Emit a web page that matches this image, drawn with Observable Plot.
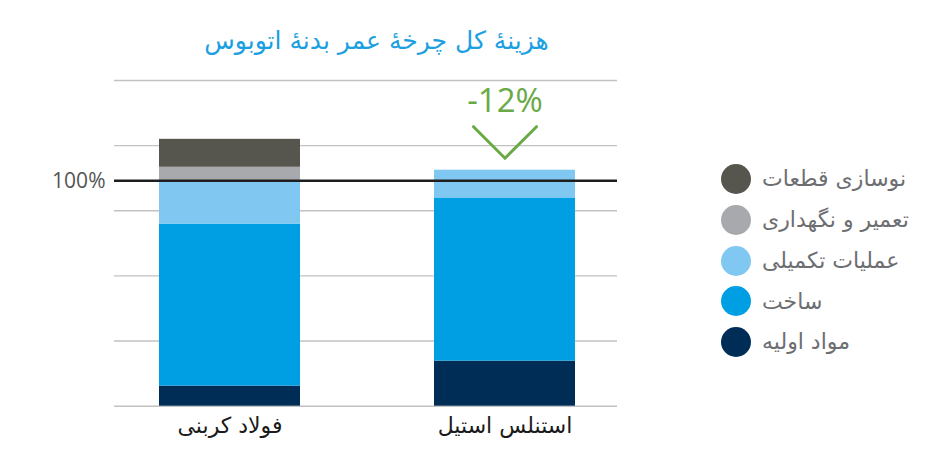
<!DOCTYPE html>
<html>
<head>
<meta charset="utf-8">
<script src="https://cdn.jsdelivr.net/npm/d3@7"></script>
<script src="https://cdn.jsdelivr.net/npm/@observablehq/plot@0.6"></script>
<style>
  html, body { margin: 0; padding: 0; background: #fff; }
  #wrap { position: relative; width: 929px; height: 474px; overflow: hidden; }
  #title { position: absolute; left: 0; width: 753px; top: 26px; text-align: center;
           font-family: "DejaVu Sans", sans-serif; font-size: 25px; line-height: 1.2; color: #1b9fe0; }
  #legend { position: absolute; left: 721px; top: 0; }
  .item { position: absolute; left: 0; display: flex; align-items: center; height: 30px; white-space: nowrap; }
  .dot { width: 30px; height: 30px; border-radius: 50%; flex: none; }
  .lab { margin-left: 11px; font-family: "DejaVu Sans", sans-serif; font-size: 22px; color: #6d6e71; }
  #chart { position: absolute; left: 0; top: 0; }
</style>
</head>
<body>
<div id="wrap">
  <div id="chart"></div>
  <div id="title">هزینهٔ کل چرخهٔ عمر بدنهٔ اتوبوس</div>
  <div id="legend"></div>
</div>
<script>
// ---- data ----
const categories = ["فولاد کربنی", "استنلس استیل"];
const components = ["مواد اولیه", "ساخت", "عملیات تکمیلی", "تعمیر و نگهداری", "نوسازی قطعات"];
const carbonSteelValues = [8.9, 71.9, 19.2, 6.0, 12.4];
const stainlessSteelValues = [20.0, 72.4, 12.3, 0, 0];
const componentColors = ["#002d55", "#009fe3", "#80c7f1", "#a7a9ac", "#56554e"];
const gridValues = [0, 28.9, 57.8, 86.7, 115.6, 144.5];
const referenceLevel = [100];

// ---- derived table ----
const rows = [];
components.forEach((c, i) => {
  rows.push({category: categories[0], component: c, value: carbonSteelValues[i]});
  rows.push({category: categories[1], component: c, value: stainlessSteelValues[i]});
});
const carbonTotal = d3.sum(carbonSteelValues);
const stainlessTotal = d3.sum(stainlessSteelValues);
const change = Math.round((stainlessTotal / carbonTotal - 1) * 100);
const changeLabel = (change < 0 ? "-" : "+") + Math.abs(change) + "%";

const vShape = {
  draw(context, l) {
    const a = l * 0.7;
    context.moveTo(-a, -a);
    context.lineTo(0, 0);
    context.lineTo(a, -a);
  }
};

const green = "#6aaa46";

const chart = Plot.plot({
  width: 929,
  height: 474,
  marginLeft: 114,
  marginRight: 312,
  marginTop: 80,
  marginBottom: 68.3,
  x: {domain: categories, paddingInner: 0.4864, paddingOuter: 0.156, align: 0.523, axis: null},
  y: {domain: [0, 144.5], axis: null},
  color: {domain: components, range: componentColors},
  marks: [
    Plot.ruleY(gridValues, {stroke: "#c2c2c2", strokeWidth: 1.4}),
    Plot.barY(rows, {x: "category", y: "value", fill: "component", z: "component"}),
    Plot.ruleY(referenceLevel, {stroke: "#1e1e1e", strokeWidth: 2.6}),
    Plot.text(referenceLevel, {y: d => d, frameAnchor: "left", textAnchor: "end", dx: -9,
      text: d => d + "%", fontSize: 21, fill: "#555", fontFamily: "Open Sans"}),
    Plot.text(categories, {x: d => d, frameAnchor: "bottom", lineAnchor: "top", dy: 11,
      text: d => d, fontSize: 22, fill: "#1a1a1a", fontFamily: "DejaVu Sans"}),
    Plot.text([stainlessTotal], {x: () => categories[1], y: d => d, dy: -69, lineAnchor: "middle",
      text: () => changeLabel, fontSize: 33, fill: green, fontFamily: "Open Sans"}),
    Plot.vector([stainlessTotal], {x: () => categories[1], y: d => d, dy: -12, length: 45,
      anchor: "start", shape: vShape, stroke: green, strokeWidth: 3, strokeLinejoin: "miter"})
  ]
});
document.getElementById("chart").appendChild(chart);

// ---- legend ----
const legend = document.getElementById("legend");
const legendCenters = [178.5, 219.5, 260.5, 301, 341.5];
components.slice().reverse().forEach((c, i) => {
  const item = document.createElement("div");
  item.className = "item";
  item.style.top = (legendCenters[i] - 15) + "px";
  const dot = document.createElement("div");
  dot.className = "dot";
  dot.style.background = componentColors[components.indexOf(c)];
  const lab = document.createElement("span");
  lab.className = "lab";
  lab.textContent = c;
  item.appendChild(dot);
  item.appendChild(lab);
  legend.appendChild(item);
});
</script>
</body>
</html>
